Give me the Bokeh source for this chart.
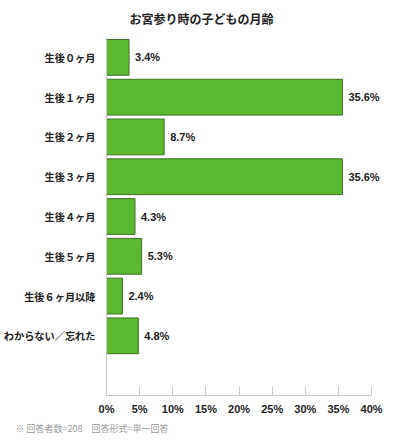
from bokeh.core.properties import value
from bokeh.embed import file_html
from bokeh.models import ColumnDataSource, FixedTicker, LabelSet, Range1d, Title
from bokeh.plotting import figure
from bokeh.resources import INLINE

# data
categories = ["生後０ヶ月", "生後１ヶ月", "生後２ヶ月", "生後３ヶ月",
              "生後４ヶ月", "生後５ヶ月", "生後６ヶ月以降", "わからない／忘れた"]
percents = [3.4, 35.6, 8.7, 35.6, 4.3, 5.3, 2.4, 4.8]
x_ticks = [0, 5, 10, 15, 20, 25, 30, 35, 40]
x_tick_labels = ["0%", "5%", "10%", "15%", "20%", "25%", "30%", "35%", "40%"]
title_text = "お宮参り時の子どもの月齢"
note_text = "※ 回答者数=208　回答形式=単一回答"

JP = "Noto Sans CJK JP"

source = ColumnDataSource(dict(
    y=list(range(len(categories))),
    pct=percents,
    label=["%.1f%%" % v for v in percents],
))

# x range runs a bit past 40 so the value labels have room; the axis stops at 40
p = figure(frame_width=285, frame_height=358,
           min_border_left=97, min_border_right=2,
           min_border_top=37, min_border_bottom=40,
           x_range=Range1d(0, 43), y_range=Range1d(8.5, -0.5),
           output_backend="svg", toolbar_location=None,
           background_fill_color="white", border_fill_color="white")
p.outline_line_color = None
p.grid.visible = False

# title
p.title.text = title_text
p.title.text_font = JP
p.title.text_font_size = "12px"
p.title.text_font_style = "bold"
p.title.text_color = "#222222"
p.title.align = "left"
p.title.offset = 23
p.title.vertical_align = "top"
p.title.standoff = 18

# bars
p.hbar(y="y", right="pct", left=0, height=0.9, source=source,
       fill_color="#5cb82e", line_color="#3f6f26", line_width=1)

# value labels
p.add_layout(LabelSet(x="pct", y="y", text="label", source=source,
                      x_offset=6, text_baseline="middle", text_align="left",
                      text_font=value("Liberation Sans"), text_font_style="bold",
                      text_font_size="11px", text_color="#222222"))

# x axis
p.xaxis.bounds = (0, 40)
p.xaxis.ticker = FixedTicker(ticks=x_ticks)
p.xaxis.major_label_overrides = {t: s for t, s in zip(x_ticks, x_tick_labels)}
p.xaxis.axis_line_color = "#c8c8c8"
p.xaxis.major_tick_line_color = "#c8c8c8"
p.xaxis.major_tick_in = 9
p.xaxis.major_tick_out = 0
p.xaxis.minor_tick_line_color = None
p.xaxis.major_label_standoff = 7
p.xaxis.major_label_text_font = "Liberation Sans"
p.xaxis.major_label_text_font_style = "bold"
p.xaxis.major_label_text_font_size = "11px"
p.xaxis.major_label_text_color = "#222222"

# y axis
p.yaxis.ticker = FixedTicker(ticks=list(range(len(categories))))
p.yaxis.major_label_overrides = {i: c for i, c in enumerate(categories)}
p.yaxis.axis_line_color = "#c8c8c8"
p.yaxis.major_tick_line_color = None
p.yaxis.minor_tick_line_color = None
p.yaxis.major_label_standoff = 5
p.yaxis.major_label_text_font = JP
p.yaxis.major_label_text_font_style = "bold"
p.yaxis.major_label_text_font_size = "10.2px"
p.yaxis.major_label_text_color = "#222222"

# footnote
p.add_layout(Title(text=note_text, text_font=JP, text_font_size="9px",
                   text_font_style="normal", text_color="#999999",
                   align="left", offset=-91, vertical_align="top",
                   standoff=9), "below")

open("out.html", "w").write(file_html(p, INLINE))
